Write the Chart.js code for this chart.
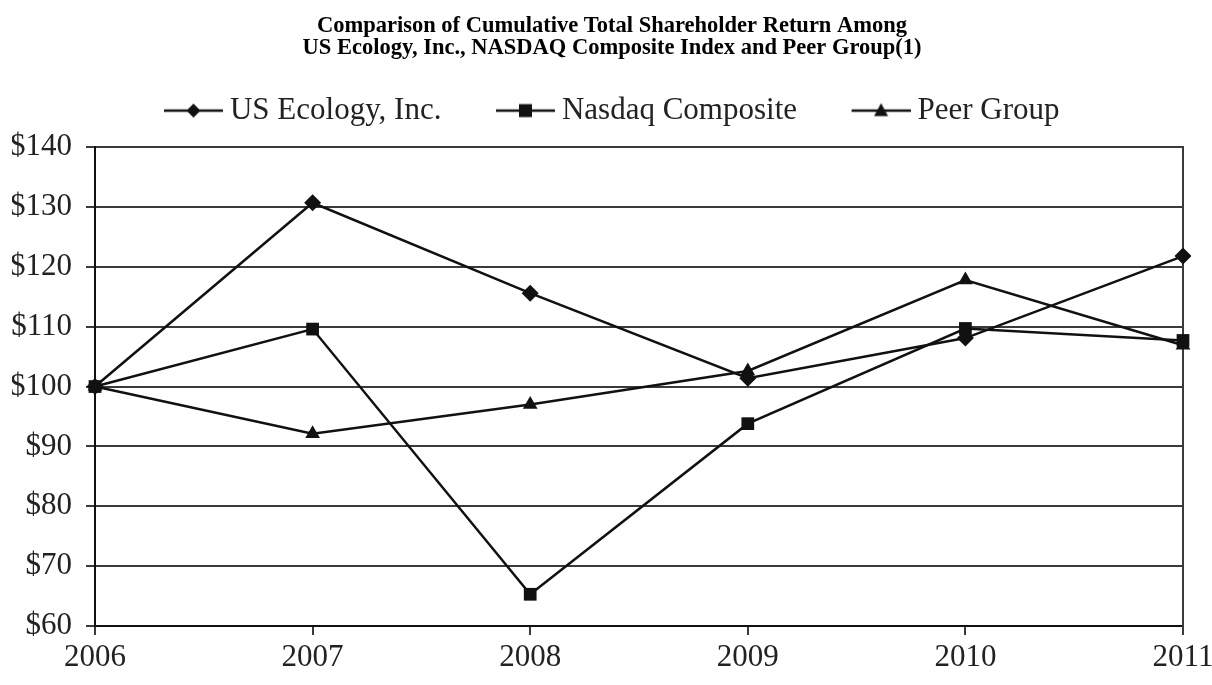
<!DOCTYPE html>
<html>
<head>
<meta charset="utf-8">
<script src="https://cdn.jsdelivr.net/npm/chart.js@4/dist/chart.umd.min.js"></script>
<style>
  html, body { margin: 0; padding: 0; background: #fff; overflow: hidden; }
  #wrap { width: 1212px; height: 685px; position: relative; }
</style>
</head>
<body>
<div id="wrap"><canvas id="c" width="1212" height="685"></canvas></div>
<script>
const years = ['2006', '2007', '2008', '2009', '2010', '2011'];
const usEcology = [100, 130.7, 115.6, 101.4, 108.1, 121.8];
const nasdaq = [100, 109.6, 65.3, 93.8, 109.7, 107.7];
const peerGroup = [100, 92.1, 97.0, 102.6, 117.8, 106.9];
const seriesNames = ['US Ecology, Inc.', 'Nasdaq Composite', 'Peer Group'];
const titleLines = ['Comparison of Cumulative Total Shareholder Return Among', 'US Ecology, Inc., NASDAQ Composite Index and Peer Group(1)'];
const yTickMin = 60, yTickMax = 140, yTickStep = 10;

const INK = '#111';
const GRID = '#3a3a3a';
const SERIF = '"Liberation Serif", "Times New Roman", serif';

const LEG_BOX = 50;
const LEG_IMG_W = LEG_BOX + 17;
const LEG_LINE = 59;

function makeIcon(shape) {
  const cv = document.createElement('canvas');
  cv.width = LEG_IMG_W; cv.height = 22;
  const g = cv.getContext('2d');
  const y = 11;
  const x0 = LEG_IMG_W - LEG_LINE, x1 = LEG_IMG_W;
  g.strokeStyle = INK; g.lineWidth = 2.5;
  g.beginPath(); g.moveTo(x0, y); g.lineTo(x1, y); g.stroke();
  const cx = (x0 + x1) / 2;
  g.fillStyle = INK;
  g.beginPath();
  if (shape === 'rectRot') {
    g.moveTo(cx, y - 7); g.lineTo(cx + 7, y); g.lineTo(cx, y + 7); g.lineTo(cx - 7, y);
  } else if (shape === 'rect') {
    g.rect(cx - 6.5, y - 6.5, 13, 13);
  } else {
    g.moveTo(cx, y - 7.5); g.lineTo(cx + 7, y + 5.5); g.lineTo(cx - 7, y + 5.5);
  }
  g.closePath(); g.fill();
  return cv;
}
const shapes = ['rectRot', 'rect', 'triangle'];
const icons = shapes.map(makeIcon);

function ds(label, data, shape, radius) {
  return {
    label, data,
    borderColor: INK, backgroundColor: INK,
    borderWidth: 2.5,
    pointStyle: shape, pointRadius: radius, pointHoverRadius: radius,
    pointBackgroundColor: INK, pointBorderColor: INK, pointBorderWidth: 0,
    tension: 0, fill: false,
    yAxisID: 'y'
  };
}

new Chart(document.getElementById('c'), {
  type: 'line',
  data: {
    labels: years,
    datasets: [
      ds(seriesNames[0], usEcology, shapes[0], 8.5),
      ds(seriesNames[1], nasdaq, shapes[1], 9),
      ds(seriesNames[2], peerGroup, shapes[2], 8.5)
    ]
  },
  options: {
    responsive: false,
    animation: false,
    layout: { padding: { left: 12, right: 0, top: 0, bottom: 0 } },
    plugins: {
      tooltip: { enabled: false },
      title: {
        display: true,
        text: titleLines,
        color: '#000',
        font: { family: SERIF, size: 22.5, weight: 'bold', lineHeight: 0.98 },
        padding: { top: 15, bottom: -19 }
      },
      subtitle: {
        display: true,
        position: 'top',
        weight: 500,
        text: '',
        font: { size: 1, lineHeight: 1 },
        padding: { top: 0, bottom: 10 }
      },
      legend: {
        display: true,
        labels: {
          usePointStyle: true,
          pointStyleWidth: LEG_BOX,
          padding: 55,
          color: '#222',
          font: { family: SERIF, size: 31 },
          generateLabels(chart) {
            const items = Chart.defaults.plugins.legend.labels.generateLabels(chart);
            items.forEach((it, i) => {
              it.pointStyle = icons[i];
              it.lineWidth = 0;
              it.strokeStyle = 'transparent';
              it.fillStyle = 'transparent';
            });
            return items;
          }
        }
      }
    },
    scales: {
      x: {
        type: 'category',
        offset: false,
        grid: {
          display: true,
          drawOnChartArea: false,
          tickColor: GRID,
          lineWidth: 2,
          tickLength: 9
        },
        border: { display: true, color: INK, width: 2 },
        ticks: {
          color: '#222',
          font: { family: SERIF, size: 31 },
          padding: 4,
          autoSkip: false,
          maxRotation: 0,
          minRotation: 0
        },
        afterFit(scale) { scale.paddingLeft = 0; scale.paddingRight = 0; scale.height = 59; }
      },
      y: {
        type: 'linear',
        position: 'left',
        min: yTickMin, max: yTickMax,
        grid: {
          color: GRID,
          lineWidth: 2,
          tickLength: 9,
          tickColor: GRID
        },
        border: { display: true, color: INK, width: 2 },
        ticks: {
          stepSize: yTickStep,
          color: '#222',
          font: { family: SERIF, size: 31 },
          padding: 14,
          callback: (v) => '$' + v
        },
        afterFit(scale) { scale.width = 83; }
      },
      yRight: {
        type: 'linear',
        position: 'right',
        min: yTickMin, max: yTickMax,
        grid: { display: false, drawOnChartArea: false, drawTicks: false },
        border: { display: true, color: GRID, width: 2 },
        ticks: { display: false },
        afterFit(scale) { scale.width = 29; }
      }
    }
  }
});
</script>
</body>
</html>
